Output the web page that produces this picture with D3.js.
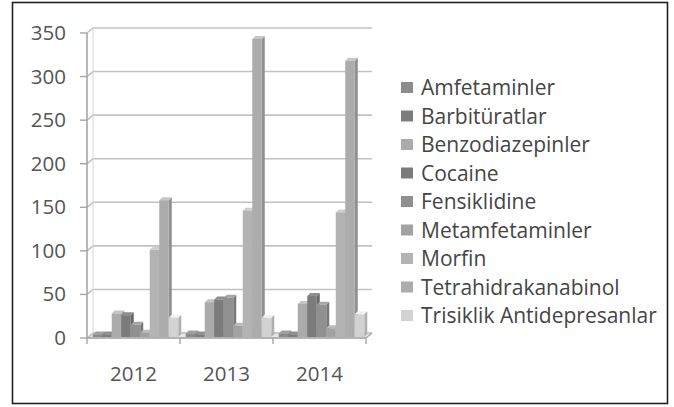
<!DOCTYPE html>
<html>
<head>
<meta charset="utf-8">
<script src="https://cdn.jsdelivr.net/npm/d3@7"></script>
<style>
  html, body { margin: 0; padding: 0; background: #ffffff; }
  #chart { width: 674px; height: 407px; }
</style>
</head>
<body>
<div id="chart"></div>
<script>
// 3D-style clustered column chart, grayscale, drug findings per year

var years = ["2012", "2013", "2014"];

var drugs = ["Amfetaminler", "Barbitüratlar", "Benzodiazepinler", "Cocaine", "Fensiklidine",
             "Metamfetaminler", "Morfin", "Tetrahidrakanabinol", "Trisiklik Antidepresanlar"];

var amfetaminler = [3, 4, 4];
var barbituratlar = [3, 3, 3];
var benzodiazepinler = [27, 40, 38];
var cocaine = [25, 43, 47];
var fensiklidine = [14, 45, 37];
var metamfetaminler = [5, 13, 10];
var morfin = [100, 145, 143];
var tetrahidrakanabinol = [157, 342, 317];
var trisiklik = [22, 22, 26];

var yTicks = [0, 50, 100, 150, 200, 250, 300, 350];

var drugColors = ["#8b8b8b", "#7c7c7c", "#ababab", "#7b7b7b", "#909090",
                  "#a2a2a2", "#b3b3b3", "#acacac", "#d2d2d2"];

(function() {

    var seriesValues = [amfetaminler, barbituratlar, benzodiazepinler, cocaine, fensiklidine,
                        metamfetaminler, morfin, tetrahidrakanabinol, trisiklik];

    var width = 674, height = 407;

    var svg = d3.select("#chart").append("svg")
        .attr("width", width)
        .attr("height", height);

    svg.append("rect")
        .attr("width", width)
        .attr("height", height)
        .attr("fill", "#ffffff");

    // outer frame
    svg.append("rect")
        .attr("x", 12.5)
        .attr("y", 2.5)
        .attr("width", 655)
        .attr("height", 401)
        .attr("fill", "none")
        .attr("stroke", "#222222")
        .attr("stroke-width", 1.6);

    var plotLeft = 87, plotRight = 366, y0 = 338, yTop = 33;
    var wallDx = 6, wallDy = -5;      // back wall offset
    var barDx = 3, barDy = -3;        // bar depth

    var y = d3.scaleLinear().domain([0, 350]).range([y0, yTop]);

    var x = d3.scaleBand()
        .domain(years)
        .range([plotLeft, plotRight])
        .paddingInner(0.08)
        .paddingOuter(0.04);

    var xInner = d3.scaleBand()
        .domain(drugs)
        .range([0, x.bandwidth()]);

    // floor
    svg.append("path")
        .attr("d", "M" + plotLeft + "," + y0 + " L" + plotRight + "," + y0 +
                   " L" + (plotRight + wallDx) + "," + (y0 + wallDy) +
                   " L" + (plotLeft + wallDx) + "," + (y0 + wallDy) + " Z")
        .attr("fill", "#e6e6e6")
        .attr("stroke", "#c4c4c4")
        .attr("stroke-width", 1);

    // back wall gridlines
    var grid = svg.append("g");
    yTicks.forEach(function(t) {
        var ty = y(t);
        grid.append("path")
            .attr("d", "M" + plotLeft + "," + ty +
                       " L" + (plotLeft + wallDx) + "," + (ty + wallDy) +
                       " L" + (plotRight + wallDx) + "," + (ty + wallDy))
            .attr("fill", "none")
            .attr("stroke", "#c2c2c2")
            .attr("stroke-width", 1.6);
    });

    // side wall edge
    svg.append("line")
        .attr("x1", plotLeft + wallDx).attr("x2", plotLeft + wallDx)
        .attr("y1", y0 + wallDy).attr("y2", yTop + wallDy)
        .attr("stroke", "#d6d6d6")
        .attr("stroke-width", 1);

    // bars
    var bars = svg.append("g");
    var baseShiftX = 2, baseShiftY = -1;

    years.forEach(function(yr, yi) {
        drugs.forEach(function(dr, di) {
            var v = seriesValues[di][yi];
            var bx = x(yr) + xInner(dr) + baseShiftX;
            var bw = xInner.bandwidth();
            var top = y(v) + baseShiftY;
            var bottom = y0 + baseShiftY;
            var col = d3.color(drugColors[di]);

            // right side face
            bars.append("path")
                .attr("d", "M" + (bx + bw) + "," + bottom +
                           " L" + (bx + bw + barDx) + "," + (bottom + barDy) +
                           " L" + (bx + bw + barDx) + "," + (top + barDy) +
                           " L" + (bx + bw) + "," + top + " Z")
                .attr("fill", col.darker(0.5));

            // top face
            bars.append("path")
                .attr("d", "M" + bx + "," + top +
                           " L" + (bx + barDx) + "," + (top + barDy) +
                           " L" + (bx + bw + barDx) + "," + (top + barDy) +
                           " L" + (bx + bw) + "," + top + " Z")
                .attr("fill", col.brighter(0.4));

            // front face
            bars.append("rect")
                .attr("x", bx)
                .attr("y", top)
                .attr("width", bw)
                .attr("height", bottom - top)
                .attr("fill", col);
        });
    });

    // axes lines
    svg.append("line")
        .attr("x1", plotLeft).attr("x2", plotLeft)
        .attr("y1", yTop).attr("y2", y0)
        .attr("stroke", "#a6a6a6")
        .attr("stroke-width", 1.6);

    svg.append("line")
        .attr("x1", plotLeft).attr("x2", plotRight)
        .attr("y1", y0).attr("y2", y0)
        .attr("stroke", "#a6a6a6")
        .attr("stroke-width", 1.6);

    svg.append("line")
        .attr("x1", plotRight).attr("x2", plotRight + wallDx)
        .attr("y1", y0).attr("y2", y0 + wallDy)
        .attr("stroke", "#a6a6a6")
        .attr("stroke-width", 1.2);

    // y ticks and labels
    yTicks.forEach(function(t) {
        svg.append("line")
            .attr("x1", plotLeft - 7).attr("x2", plotLeft)
            .attr("y1", y(t)).attr("y2", y(t))
            .attr("stroke", "#a6a6a6")
            .attr("stroke-width", 1.4);

        svg.append("text")
            .attr("x", 66)
            .attr("y", y(t) + 7)
            .attr("text-anchor", "end")
            .attr("font-family", "'Open Sans', sans-serif")
            .attr("font-size", "20.5px")
            .attr("fill", "#555555")
            .text(t);
    });

    // x ticks and labels
    var xTickPos = [plotLeft].concat(years.map(function(yr) {
        return x(yr) + x.bandwidth() + x.step() * x.paddingInner() / 2;
    }));
    xTickPos[xTickPos.length - 1] = plotRight;

    xTickPos.forEach(function(px) {
        svg.append("line")
            .attr("x1", px).attr("x2", px)
            .attr("y1", y0).attr("y2", y0 + 6)
            .attr("stroke", "#a6a6a6")
            .attr("stroke-width", 1.4);
    });

    years.forEach(function(yr) {
        svg.append("text")
            .attr("x", x(yr) + x.bandwidth() / 2)
            .attr("y", 381)
            .attr("text-anchor", "middle")
            .attr("font-family", "'Open Sans', sans-serif")
            .attr("font-size", "20.5px")
            .attr("fill", "#555555")
            .text(yr);
    });

    // legend
    var legend = svg.append("g");
    drugs.forEach(function(dr, di) {
        var ly = 88 + di * 28.5;
        legend.append("rect")
            .attr("x", 401)
            .attr("y", ly - 6)
            .attr("width", 12)
            .attr("height", 11)
            .attr("fill", drugColors[di]);

        legend.append("text")
            .attr("x", 421)
            .attr("y", ly + 7)
            .attr("font-family", "'Open Sans', sans-serif")
            .attr("font-size", "21px")
            .attr("fill", "#454545")
            .text(dr);
    });

})();
</script>
</body>
</html>
